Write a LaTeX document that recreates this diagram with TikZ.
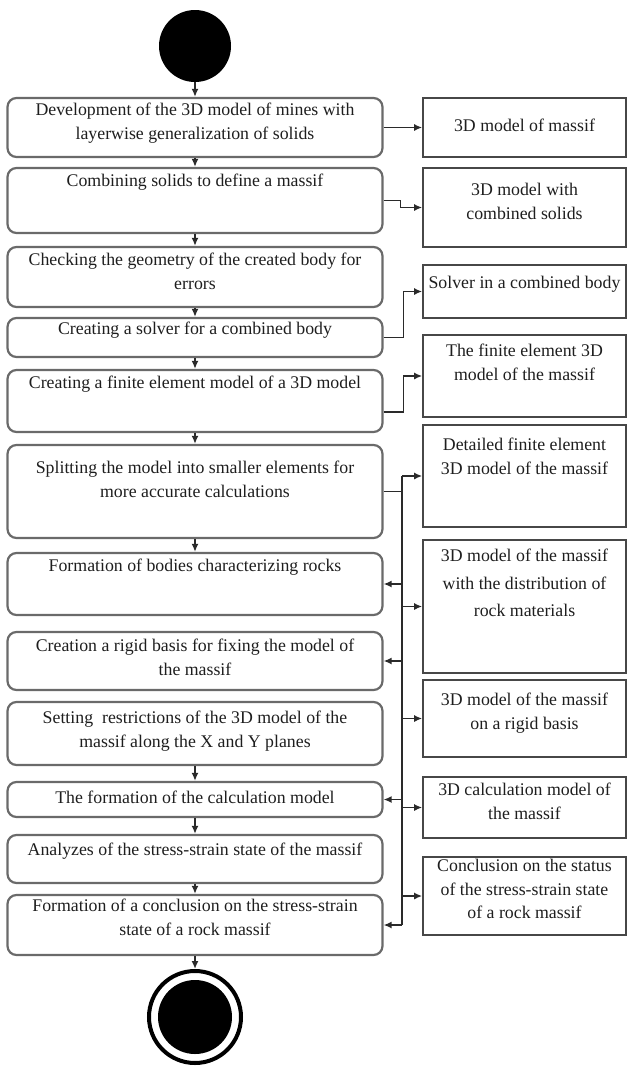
\documentclass[tikz,border=0pt]{standalone}
\usepackage{fontspec}
\setmainfont{Liberation Serif}
\usetikzlibrary{arrows.meta,positioning}
\definecolor{lnk}{HTML}{2A2A2A}
\definecolor{frm}{HTML}{6A6A6A}
\definecolor{rfrm}{HTML}{474747}
\definecolor{ink}{HTML}{1E1E1E}

\begin{document}
\begin{tikzpicture}[
  x=1pt, y=1pt,
  font=\fontsize{17.8}{23.5}\selectfont,
  stepbox/.style={draw=frm, line width=2.2pt, rounded corners=9pt, minimum width=375pt, inner sep=0pt},
  outbox/.style={draw=rfrm, line width=1.6pt, minimum width=203pt, inner sep=0pt},
  txt/.style={align=center, inner sep=0pt, text=ink},
  flow/.style={lnk, line width=1.6pt},
  arr/.style={flow, -{Latex[length=8pt,width=7pt]}},
]
\useasboundingbox (0,0) rectangle (627,-1066);

% ---------- start / end ----------
\node[circle, fill=black, minimum size=72pt, inner sep=0pt] (start) at (195,-46) {};
\node[circle, draw=black, line width=4pt, minimum size=92pt, inner sep=0pt] (stop) at (195,-1017) {};
\node[circle, fill=black, minimum size=74pt, inner sep=0pt] (stopin) at (stop) {};

% ---------- steps (left) ----------
% id / centre y / height / text drop / text
\foreach \n/\yc/\h/\dy/\txt in {
  1/127.5/59/6/{Development of the 3D model of mines with\\layerwise generalization of solids},
  2/200.5/65/7/{Combining solids to define a massif},
  3/277/60/7/{Checking the geometry of the created body for\\errors},
  4/337.5/39/5/{Creating a solver for a combined body},
  5/401/62/7/{Creating a finite element model of a 3D model},
  6/491.5/93/17/{Splitting the model into smaller elements for\\more accurate calculations},
  7/584/62/7/{Formation of bodies characterizing rocks},
  8/661/58/8/{Creation a rigid basis for fixing the model of\\the massif},
  9/733.5/63/10/{Setting\ \ restrictions of the 3D model of the\\massif along the X and Y planes},
  10/799.5/35/10/{The formation of the calculation model},
  11/859/48/9/{Analyzes of the stress-strain state of the massif},
  12/925/60/5/{Formation of a conclusion on the stress-strain\\state of a rock massif}}
{
  \node[stepbox, minimum height=\h pt] (b\n) at (195,-\yc) {};
  \node[txt, below=\dy pt of b\n.north] (t\n) {\txt};
}

% ---------- results (right) ----------
\foreach \n/\yc/\h/\dy/\txt in {
  1/127.5/59/22/{3D model of massif},
  2/207.5/79/16/{3D model with\\combined solids},
  3/291.5/53/12/{Solver in a combined body},
  4/376/82/10/{The finite element 3D\\model of the massif},
  5/476/102/14/{Detailed finite element\\3D model of the massif},
  6/606.5/133/10/{3D model of the massif\\[4pt]with the distribution of\\[4pt]rock materials},
  7/718.5/77/14/{3D model of the massif\\on a rigid basis},
  8/807.5/61/7/{3D calculation model of\\the massif},
  9/896/78/3/{Conclusion on the status\\of the stress-strain state\\of a rock massif}}
{
  \node[outbox, minimum height=\h pt] (r\n) at (524.5,-\yc) {};
  \node[txt, below=\dy pt of r\n.north] (s\n) {\txt};
}

% ---------- flow down ----------
\draw[arr] (start) -- (b1);
\foreach \a/\b in {1/2,2/3,3/4,4/5,5/6,6/7,9/10,10/11,11/12}
  \draw[arr] (b\a) -- (b\b);
\draw[arr] (b12) -- (stop);

% ---------- steps to results ----------
\draw[arr] (b1) -- (r1);
\draw[arr] (b2.east) -- ++(17,0) |- (r2.west);
\draw[arr] (b4.east) -- ++(20,0) |- (r3.west);
\draw[arr] ([yshift=-11pt]b5.east) -- ++(20,0) |- (r4.west);

% shared bus
\coordinate (ttop) at (402,-476);
\coordinate (tbot) at (402,-925);
\draw[flow] (ttop) -- (tbot);
\draw[flow] (b6.east) -- (b6.east -| ttop);
\foreach \r in {5,6,7,8,9}
  \draw[arr] (r\r.west -| ttop) -- (r\r.west);
\foreach \b in {7,8,10,12}
  \draw[arr] (b\b.east -| ttop) -- (b\b.east);

\end{tikzpicture}
\end{document}
